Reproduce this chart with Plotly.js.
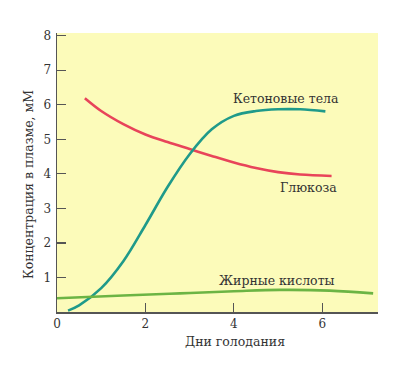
<!DOCTYPE html>
<html>
<head>
<meta charset="utf-8">
<script src="https://cdn.plot.ly/plotly-3.0.1.min.js"></script>
<style>html,body{margin:0;padding:0;background:#fff;}#chart{width:416px;height:377px;}</style>
</head>
<body>
<div id="chart"></div>
<script>
// Days of starvation vs plasma concentration (mM)
const glucoseDays = [0.63, 1.0, 1.5, 2.0, 2.5, 3.0, 3.5, 4.0, 4.5, 5.0, 5.5, 6.21];
const glucoseVals = [6.19, 5.82, 5.44, 5.14, 4.92, 4.72, 4.52, 4.33, 4.17, 4.05, 3.98, 3.94];

const ketoneDays = [0.25, 0.5, 1.0, 1.5, 2.0, 2.5, 3.0, 3.5, 4.0, 4.5, 5.0, 5.5, 6.07];
const ketoneVals = [0.04, 0.19, 0.69, 1.47, 2.52, 3.62, 4.57, 5.29, 5.68, 5.82, 5.87, 5.87, 5.81];

const fattyDays = [0.00, 1.50, 2.78, 4.00, 5.04, 6.17, 7.15];
const fattyVals = [0.40, 0.48, 0.54, 0.60, 0.64, 0.62, 0.54];

const xTicks = [0, 2, 4, 6];
const yTicks = [1, 2, 3, 4, 5, 6, 7, 8];

const serif = '"DejaVu Serif", "Liberation Serif", serif';

const traces = [
  {x: glucoseDays, y: glucoseVals, mode: 'lines', line: {color: '#e8445a', width: 2.6, shape: 'spline', smoothing: 1}, name: 'Глюкоза'},
  {x: ketoneDays, y: ketoneVals, mode: 'lines', line: {color: '#1f9a8a', width: 2.6, shape: 'spline', smoothing: 1}, name: 'Кетоновые тела'},
  {x: fattyDays, y: fattyVals, mode: 'lines', line: {color: '#6cb444', width: 2.6, shape: 'spline', smoothing: 1}, name: 'Жирные кислоты'}
];

const layout = {
  width: 416, height: 377,
  margin: {l: 57, r: 38, t: 33, b: 65},
  paper_bgcolor: '#ffffff',
  plot_bgcolor: '#fcfbba',
  showlegend: false,
  font: {family: serif, color: '#333', size: 12},
  xaxis: {
    range: [0, 7.26], tickvals: xTicks, ticktext: xTicks.map(String),
    ticks: 'inside', ticklen: 9, tickcolor: '#555', tickwidth: 1.2,
    showline: true, linecolor: '#555', linewidth: 1.5,
    showgrid: false, zeroline: false,
    tickfont: {family: serif, size: 12, color: '#333'}
  },
  yaxis: {
    range: [0, 8.08], tickvals: yTicks, ticktext: yTicks.map(String),
    ticks: 'inside', ticklen: 9, tickcolor: '#555', tickwidth: 1.2,
    showline: true, linecolor: '#555', linewidth: 1.5,
    showgrid: false, zeroline: false, ticklabelstandoff: 2,
    tickfont: {family: serif, size: 12, color: '#333'}
  },
  annotations: [
    {text: 'Кетоновые тела', x: 286, y: 98},
    {text: 'Глюкоза', x: 308, y: 187},
    {text: 'Жирные кислоты', x: 277, y: 280},
    {text: 'Дни голодания', x: 235, y: 341},
    {text: 'Концентрация в плазме, мМ', x: 28, y: 185, textangle: -90}
  ]
};
// convert pixel positions of annotations to paper coords
const pw = 416 - 57 - 38, ph = 377 - 33 - 65;
layout.annotations = layout.annotations.map(a => Object.assign({}, a, {
  xref: 'paper', yref: 'paper', showarrow: false,
  x: (a.x - 57) / pw, y: (377 - 65 - a.y) / ph,
  xanchor: 'center', yanchor: 'middle',
  font: {family: serif, size: 12.5, color: '#333'}
}));

Plotly.newPlot('chart', traces, layout, {displayModeBar: false, staticPlot: true});
</script>
</body>
</html>
